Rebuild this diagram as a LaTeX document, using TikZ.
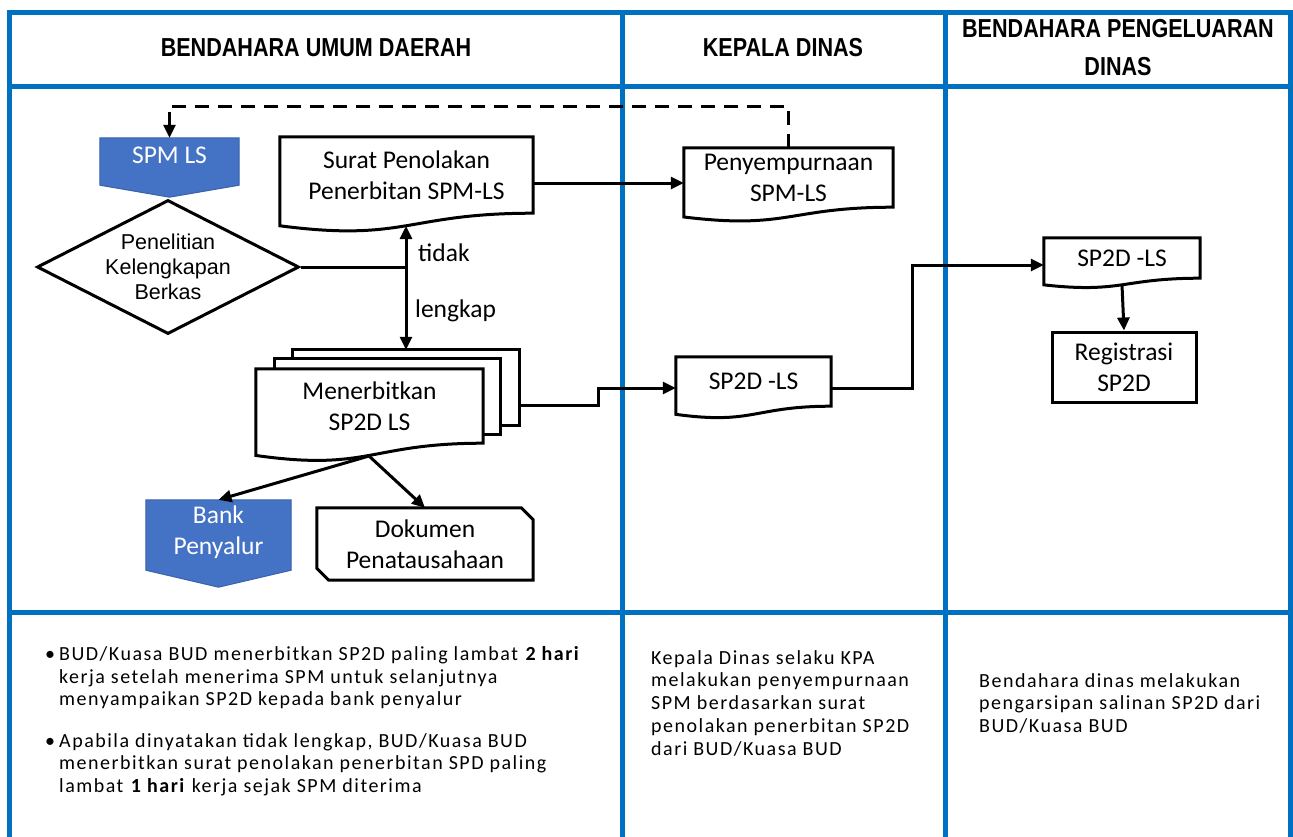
\documentclass[tikz,border=0pt]{standalone}
\usepackage{fontspec}
\setmainfont{Carlito}
\newfontfamily\headfont[FakeStretch=0.83]{Liberation Sans}
\newfontfamily\arialfont{Liberation Sans}
\newfontfamily\notefont[LetterSpace=7.5]{Carlito}
\usetikzlibrary{arrows.meta,shapes.geometric,calc,backgrounds}

\definecolor{laneblue}{HTML}{0070C0}
\definecolor{termblue}{HTML}{4472C4}
\definecolor{termedge}{HTML}{3A62AE}

\newcommand\flowsize{\fontsize{25.5}{31}\selectfont}
\newcommand\headsize{\headfont\bfseries\fontsize{26}{38}\selectfont}
\newcommand\decisionsize{\arialfont\fontsize{21.5}{25}\selectfont}
\newcommand\notesize{\notefont\fontsize{20}{22.8}\selectfont}

% document symbol with a wavy lower edge, hanging below the text box of node #1
\newcommand\docpath[1]{%
  \filldraw[shapeline,fill=white] let \p1=(#1.north west), \p2=(#1.south east), \n1={\y1-\y2} in
    (\x1,\y1) -- (\x2,\y1) -- (\x2,\y2)
    .. controls ({(\x1+\x2)/2},\y2) and ({(\x1+\x2)/2},{\y1-1.381*\n1}) ..
    (\x1,{\y1-1.1646*\n1}) -- cycle;}

% off-page connector: box of node #1 with sides extended by #2 and a point #3 below it
\newcommand\offpage[3]{%
  \filldraw[draw=termedge,line width=1pt,fill=termblue]
    (#1.north west) -- (#1.north east) -- ($(#1.south east)+(0,#2)$)
    -- ($(#1.south)+(0,#3)$) -- ($(#1.south west)+(0,#2)$) -- cycle;}

\begin{document}
\begin{tikzpicture}[x=1pt,y=-1pt,
  lane/.style={draw=laneblue,line width=5pt},
  shapeline/.style={draw=black,line width=3pt,line join=miter},
  flow/.style={draw=black,line width=3pt,line join=miter,-{Triangle[length=13pt,width=12pt]}},
  dashflow/.style={flow,dash pattern=on 14pt off 9pt},
  doctext/.style={inner sep=0pt,align=center,font=\flowsize},
  lbl/.style={inner sep=0pt,font=\flowsize},
  header/.style={inner sep=0pt,align=center,font=\headsize},
  notetext/.style={inner sep=0pt,align=left,font=\notesize}]

\useasboundingbox (0,0) rectangle (1293,836);

% lane headers
\node[header] (hbud) at (316,48) {BENDAHARA UMUM DAERAH};
\node[header] (hkd) at (783,48) {KEPALA DINAS};
\node[header] (hbp) at (1118,48) {BENDAHARA PENGELUARAN\\DINAS};

% flow symbols
\node[doctext,text=white,minimum width=139,minimum height=35] (spm) at (169.5,155.5) {SPM LS};
\node[diamond,shapeline,aspect=1.955,inner sep=0pt,minimum width=262,minimum height=134,
      align=center,font=\decisionsize] (pen) at (168,267) {Penelitian\\Kelengkapan\\Berkas};
\node[doctext,minimum width=253,minimum height=76] (surat) at (406.5,175) {Surat Penolakan\\Penerbitan SPM-LS};
\node[doctext,minimum width=209,minimum height=59] (peny) at (788.5,177.5) {Penyempurnaan\\SPM-LS};
\node[doctext,minimum width=226,minimum height=75] (mspback) at (406,387.5) {};
\node[doctext,minimum width=225,minimum height=75] (mspmid) at (387.5,396.5) {};
\node[doctext,minimum width=227,minimum height=74] (msp) at (369.5,406) {Menerbitkan\\SP2D LS};
\node[doctext,minimum width=155,minimum height=49] (sp2dk) at (753.5,381.5) {SP2D -LS};
\node[doctext,minimum width=156,minimum height=40] (sp2db) at (1122,258) {SP2D -LS};
\node[doctext,shapeline,minimum width=144,minimum height=70] (reg) at (1124,367) {Registrasi\\SP2D};
\node[doctext,text=white,minimum width=145,minimum height=65] (bank) at (218.5,532.5) {Bank\\Penyalur};
\node[doctext,minimum width=216,minimum height=72] (dok) at (425,544) {Dokumen\\Penatausahaan};

% connector bends
\coordinate (split) at (406,267);
\coordinate (suratb) at (406,226);
\coordinate (loop) at (169.5,106);
\coordinate (mspb) at (369,456);
\coordinate (sa) at ([yshift=-8pt]surat.east);
\coordinate (j1) at (598,405);
\coordinate (j2) at (598,388);
\coordinate (j3) at (912,388);
\coordinate (j4) at (912,265);
\coordinate (sp2dbb) at (1122,285);

% connectors
\draw[shapeline] (pen.east) -- (split);
\draw[flow] (split) -- (suratb);
\draw[flow] (split) -- (mspback.north);
\draw[flow] (sa) -- (sa -| peny.west);
\draw[dashflow] (peny.north) |- (loop) -- (spm.north);
\draw[flow] (mspback.east |- j1) -- (j1) -- (j2) -- (j2 -| sp2dk.west);
\draw[flow] (sp2dk.east |- j3) -- (j3) -- (j4) -- (j4 -| sp2db.west);
\draw[flow] (sp2dbb) -- (reg.north);
\draw[flow] (mspb) -- (bank.north);
\draw[flow] (mspb) -- (dok.north);

\node[lbl,anchor=west] (tidak) at (418,253) {tidak};
\node[lbl,anchor=west] (lengkap) at (415,311) {lengkap};

% notes
\node[notetext,anchor=north west] (notea) at (59,646)
  {\makebox[0pt][r]{•\hspace{4pt}}BUD/Kuasa BUD menerbitkan SP2D paling lambat \textbf{2 hari}\\
   kerja setelah menerima SPM untuk selanjutnya\\
   menyampaikan SP2D kepada bank penyalur};
\node[notetext,anchor=north west] (noteb) at (59,733)
  {\makebox[0pt][r]{•\hspace{4pt}}Apabila dinyatakan tidak lengkap, BUD/Kuasa BUD\\
   menerbitkan surat penolakan penerbitan SPD paling\\
   lambat \textbf{1 hari} kerja sejak SPM diterima};
\node[notetext,anchor=north west] (notec) at (651,650)
  {Kepala Dinas selaku KPA\\
   melakukan penyempurnaan\\
   SPM berdasarkan surat\\
   penolakan penerbitan SP2D\\
   dari BUD/Kuasa BUD};
\node[notetext,anchor=north west] (noted) at (979,673)
  {Bendahara dinas melakukan\\
   pengarsipan salinan SP2D dari\\
   BUD/Kuasa BUD};

% swimlane grid and symbol outlines behind the text
\begin{scope}[on background layer]
  \draw[lane,line join=miter] (9,840) -- (9,12) -- (1290,12) -- (1290,840);
  \draw[lane] (9,86) -- (1290,86);
  \draw[lane] (9,612) -- (1290,612);
  \draw[lane] (622,12) -- (622,840);
  \draw[lane] (945,12) -- (945,840);
  \offpage{spm}{12}{24}
  \offpage{bank}{5}{22}
  \docpath{surat}
  \docpath{peny}
  \filldraw[shapeline,fill=white] (mspback.north west) rectangle (mspback.south east);
  \filldraw[shapeline,fill=white] (mspmid.north west) rectangle (mspmid.south east);
  \docpath{msp}
  \docpath{sp2dk}
  \docpath{sp2db}
  \filldraw[shapeline,fill=white] (dok.north west) -- ([xshift=-12pt]dok.north east)
    -- ([yshift=-12pt]dok.north east) -- (dok.south east)
    -- ([xshift=12pt]dok.south west) -- ([yshift=12pt]dok.south west) -- cycle;
\end{scope}
\end{tikzpicture}
\end{document}
